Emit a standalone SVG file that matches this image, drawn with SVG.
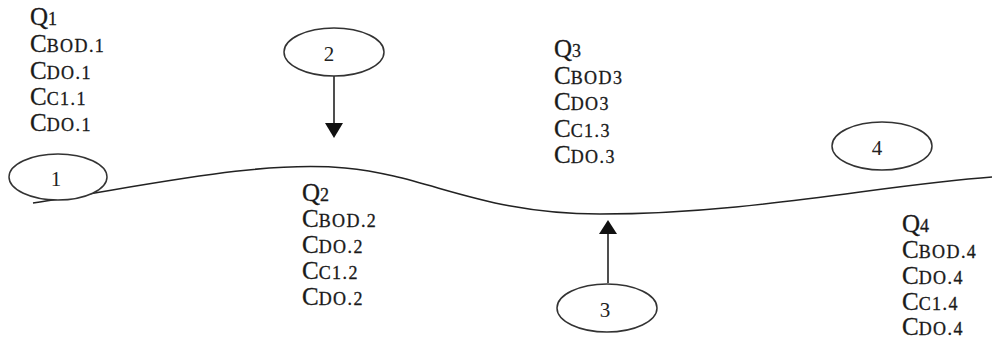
<svg xmlns="http://www.w3.org/2000/svg" width="993" height="340" viewBox="0 0 993 340">
<style>
.t{font-family:"Liberation Serif","Times New Roman",serif;font-size:25px;fill:#1a1a1a;stroke:#1a1a1a;stroke-width:0.3}
.s{font-size:18px;letter-spacing:1.4px}
.n{font-family:"Liberation Serif","Times New Roman",serif;font-size:21px;fill:#222;text-anchor:middle}
.e{fill:#fff;stroke:#333;stroke-width:1.5}
.c{fill:none;stroke:#222;stroke-width:1.6}
</style>
<rect width="993" height="340" fill="#fff"/>
<g id="connectors">
<path class="c" d="M33,203 C150,185 260,160 345,168 C430,176 480,214 600,214 C750,214 880,185 992,177"/>
<line class="c" x1="334" y1="76" x2="334" y2="124"/>
<path d="M325,123 L343,123 L334,138 z" fill="#111"/>
<line class="c" x1="608" y1="283" x2="608" y2="233"/>
<path d="M599,234 L617,234 L608,220 z" fill="#111"/>
</g>
<g id="node1">
<ellipse class="e" cx="58" cy="177" rx="49" ry="23"/>
<text class="n" x="56" y="186">1</text>
</g>
<g id="node2">
<ellipse class="e" cx="334" cy="52" rx="50" ry="24"/>
<text class="n" x="329" y="61">2</text>
</g>
<g id="node3">
<ellipse class="e" cx="607" cy="308" rx="50" ry="24"/>
<text class="n" x="605" y="317">3</text>
</g>
<g id="node4">
<ellipse class="e" cx="882" cy="146" rx="50" ry="24"/>
<text class="n" x="877" y="155">4</text>
</g>
<g id="labels1">
<text class="t" x="30" y="25">Q<tspan class="s">1</tspan></text>
<text class="t" x="30" y="52">C<tspan class="s">BOD.1</tspan></text>
<text class="t" x="30" y="79">C<tspan class="s">DO.1</tspan></text>
<text class="t" x="30" y="105">C<tspan class="s">C1.1</tspan></text>
<text class="t" x="30" y="131">C<tspan class="s">DO.1</tspan></text>
</g>
<g id="labels2">
<text class="t" x="302" y="201">Q<tspan class="s">2</tspan></text>
<text class="t" x="302" y="227">C<tspan class="s">BOD.2</tspan></text>
<text class="t" x="302" y="253">C<tspan class="s">DO.2</tspan></text>
<text class="t" x="302" y="279">C<tspan class="s">C1.2</tspan></text>
<text class="t" x="302" y="305">C<tspan class="s">DO.2</tspan></text>
</g>
<g id="labels3">
<text class="t" x="554" y="57">Q<tspan class="s">3</tspan></text>
<text class="t" x="554" y="84">C<tspan class="s">BOD3</tspan></text>
<text class="t" x="554" y="110">C<tspan class="s">DO3</tspan></text>
<text class="t" x="554" y="137">C<tspan class="s">C1.3</tspan></text>
<text class="t" x="554" y="163">C<tspan class="s">DO.3</tspan></text>
</g>
<g id="labels4">
<text class="t" x="902" y="232">Q<tspan class="s">4</tspan></text>
<text class="t" x="902" y="258">C<tspan class="s">BOD.4</tspan></text>
<text class="t" x="902" y="284">C<tspan class="s">DO.4</tspan></text>
<text class="t" x="902" y="310">C<tspan class="s">C1.4</tspan></text>
<text class="t" x="902" y="335">C<tspan class="s">DO.4</tspan></text>
</g>
</svg>
